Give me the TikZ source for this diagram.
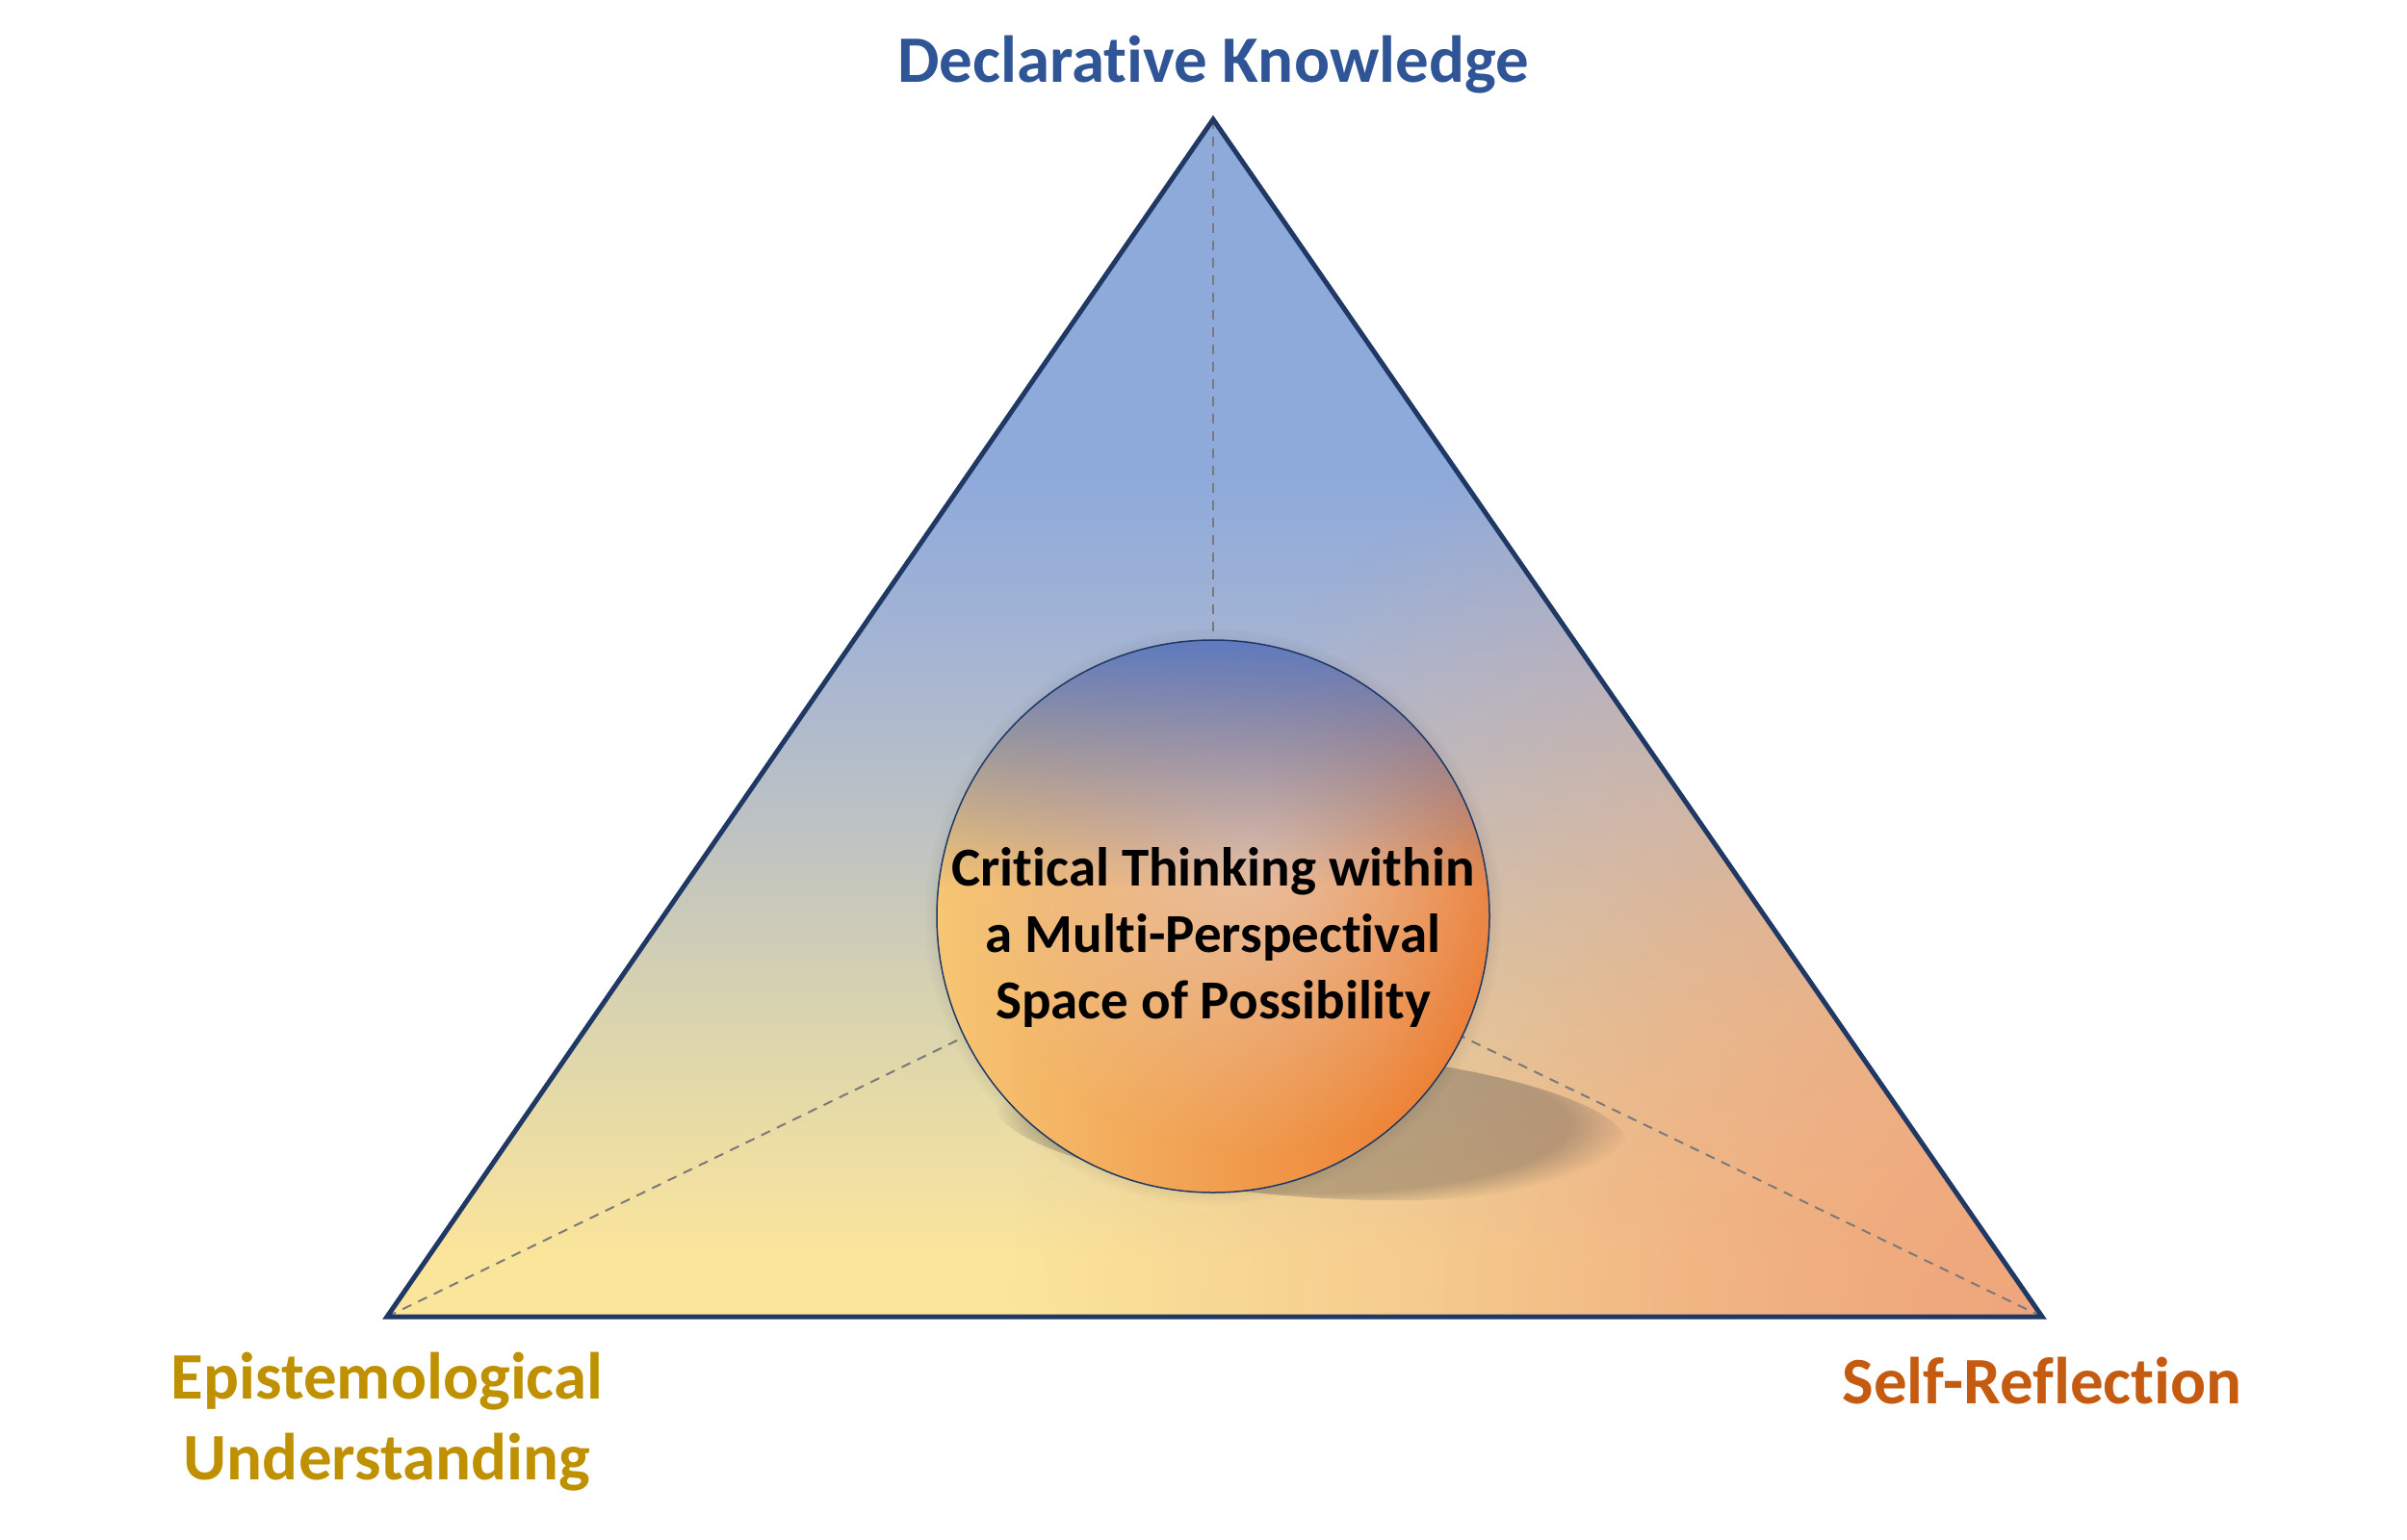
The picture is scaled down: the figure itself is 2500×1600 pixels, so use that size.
\documentclass[tikz,border=0pt]{standalone}
\usepackage{fontspec}
\setmainfont{Carlito}[Ligatures=NoCommon]
\usetikzlibrary{fadings}
\definecolor{triB}{HTML}{8EAADB}
\definecolor{triM1}{HTML}{A6B5D3}
\definecolor{triM2}{HTML}{BFC3C2}
\definecolor{triM3}{HTML}{DAD4AE}
\definecolor{triY}{HTML}{FBE59B}
\definecolor{orng}{HTML}{EFA67C}
\definecolor{navy}{HTML}{1F3864}
\definecolor{dashgray}{HTML}{7A7A7A}
\definecolor{cY}{HTML}{F6C674}
\definecolor{cM}{HTML}{F1A862}
\definecolor{cOr}{HTML}{EC782C}
\definecolor{cBeige}{HTML}{E6CABA}
\definecolor{cBlue}{HTML}{5577C4}
\definecolor{shadowC}{HTML}{3A3A40}
\definecolor{declC}{HTML}{2F5597}
\definecolor{episC}{HTML}{BF9000}
\definecolor{selfC}{HTML}{C55A11}
\pgfdeclareverticalshading{trishade}{100bp}{color(0bp)=(triY); color(25bp)=(triY); color(27.5bp)=(triY); color(37.5bp)=(triM3); color(45bp)=(triM2); color(52.5bp)=(triM1); color(60bp)=(triB); color(75bp)=(triB); color(100bp)=(triB)}
\tikzfading[name=radfade, inner color=transparent!0, outer color=transparent!100]
\begin{tikzfadingfrompicture}[name=bluefadeP]
  \path (-300pt,-300pt) rectangle (300pt,300pt);
  \shade[top color=transparent!5, bottom color=transparent!100] (-300pt,290pt) rectangle (300pt,30pt);
\end{tikzfadingfrompicture}
\tikzset{
  label/.style={font=\fontsize{69}{84}\selectfont\bfseries, align=center},
  dashline/.style={draw=dashgray, line width=2pt, dash pattern=on 10pt off 8pt},
  triline/.style={draw=navy, line width=5pt, line join=miter},
}
\begin{document}
\begin{tikzpicture}[x=1pt,y=-1pt]
\useasboundingbox (0,0) rectangle (2500,1600);
\coordinate (A) at (1260,124);
\coordinate (L) at (402,1368);
\coordinate (R) at (2121,1368);
\coordinate (O) at (1260,952);
% triangle fill
\shade[shading=trishade] (A) -- (L) -- (R) -- cycle;
\begin{scope}
  \clip (A) -- (L) -- (R) -- cycle;
  \fill[orng, path fading=radfade] (2100,1368) circle (1050);
  \fill[orng, opacity=0.5, path fading=radfade] (2100,1368) circle (600);
\end{scope}
% dashed lines
\draw[dashline] (A) -- (O);
\draw[dashline] (L) -- (O);
\draw[dashline] (R) -- (O);
% shadow
\fill[shadowC, opacity=0.3, path fading=circle with fuzzy edge 20 percent, rotate around={-4:(1362,1168)}] (1362,1168) ellipse (330 and 76);
\fill[shadowC, opacity=0.18, path fading=circle with fuzzy edge 10 percent] (O) circle (300);
% circle
\begin{scope}
  \clip (O) circle (287);
  \shade[left color=cY, middle color=cM, right color=cOr] (O) circle (287);
  \fill[cBeige, opacity=0.8, path fading=radfade] (1300,880) circle (320);
  \fill[cBlue, path fading=bluefadeP, fit fading=false, fading transform={shift={(O)}}] (O) circle (287);
\end{scope}
\node[circle, draw=navy, line width=1.5pt, minimum size=574pt, inner sep=0pt] (C) at (O) {};
\node[font=\fontsize{57}{69}\selectfont\bfseries, align=center] (ct) at (1260,974) {Critical Thinking within\\a Multi-Perspectival\\Space of Possibility};
% triangle outline
\draw[triline] (A) -- (L) -- (R) -- cycle;
% labels
\node[label, text=declC] (dk) at (1260,67) {Declarative Knowledge};
\node[label, text=episC] (eu) at (402,1477) {Epistemological\\Understanding};
\node[label, text=selfC] (sr) at (2121,1435) {Self-Reflection};
\end{tikzpicture}
\end{document}
